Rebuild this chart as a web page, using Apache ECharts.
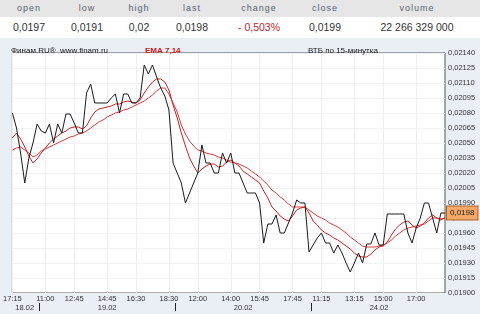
<!DOCTYPE html>
<html>
<head>
<meta charset="utf-8">
<script src="https://cdn.jsdelivr.net/npm/echarts@6/dist/echarts.min.js"></script>
<style>
  html, body { margin:0; padding:0; }
  body { width:480px; height:314px; background:#eaeff6; position:relative; overflow:hidden; font-family:"Liberation Sans", Arial, sans-serif; }
  #hdr1 { position:absolute; left:0; top:0; width:480px; height:17px; background:#e6e6e6; }
  #hdr2 { position:absolute; left:0; top:17px; width:480px; height:21px; background:#ffffff; }
  .h { position:absolute; width:90px; text-align:center; font-size:9px; letter-spacing:1px; color:#5a6470; top:3px; }
  .v { position:absolute; width:110px; text-align:center; font-size:10.5px; color:#333; top:4px; }
  .red { color:#c0282d; }
  #chart { position:absolute; left:0; top:0; width:480px; height:314px; }
</style>
</head>
<body>
<div id="chart"></div>
<div id="hdr1"></div>
<div id="hdr2"></div>
<script>
// ---- header table ----
const headNames = ['open','low','high','last','change','close','volume'];
const headValues = ['0,0197','0,0191','0,02','0,0198','- 0,503%','0,0199','22 266 329 000'];
const headCenters = [29, 87, 139, 192, 259, 325, 417];

// ---- days / sessions (15-minute bars) ----
const days = ['18.02','19.02','20.02','24.02'];
const dayStart = ['17:15','10:45','10:45','10:45'];
const dayEnd   = ['18:45','18:45','18:45','18:45'];
// time labels shown on the axis
const tickLabels = ['18.02 17:15','19.02 11:00','19.02 12:45','19.02 14:45','19.02 16:30','19.02 18:30',
  '20.02 12:00','20.02 14:00','20.02 15:45','20.02 17:45','24.02 11:15','24.02 13:15','24.02 15:00','24.02 17:00'];

// ---- series values ----
const closeVals = [
 0.0208,0.02065,0.0204,0.0201,0.02035,0.0205,0.02069,0.02062,0.0206,0.02069,
 0.0205,0.02069,0.0206,0.02079,0.02079,0.0207,0.0206,0.0206,0.0210,0.02109,
 0.0209,0.0209,0.0209,0.0209,0.02095,0.02099,0.0208,0.02099,0.02099,0.0209,
 0.0209,0.02095,0.02128,0.02119,0.02128,0.02116,0.02105,0.02097,0.02083,0.0203,
 0.0202,0.0201,0.0199,0.0200,0.0201,0.0202,0.02048,0.0203,0.0203,0.0202,
 0.0202,0.0204,0.0203,0.0204,0.0202,0.0202,0.0201,0.0200,0.0200,0.0200,
 0.0199,0.0195,0.01969,0.01969,0.01978,0.0196,0.0196,0.0197,0.0198,0.01993,
 0.0199,0.0199,0.01941,0.01948,0.01955,0.0196,0.0195,0.0195,0.0194,0.01948,
 0.0194,0.0193,0.01921,0.0193,0.0194,0.0193,0.01949,0.01949,0.0196,0.01948,
 0.01948,0.01979,0.01979,0.01979,0.01979,0.01979,0.0196,0.0195,0.01965,0.01975,
 0.0199,0.0199,0.01975,0.0196,0.0198,0.0198
];
const ema7Vals = [
 0.02055,0.0206,0.02054,0.02046,0.02037,0.0203,0.02034,0.0204,0.02045,0.0205,
 0.02054,0.02057,0.0206,0.02062,0.02065,0.02066,0.02066,0.02064,0.02067,0.02075,
 0.02081,0.02084,0.02085,0.02086,0.02087,0.02089,0.02089,0.02091,0.02092,0.02091,
 0.0209,0.02093,0.0210,0.02106,0.02111,0.02114,0.02114,0.02111,0.02103,0.02088,
 0.02075,0.0206,0.02047,0.02035,0.02027,0.0202,0.02024,0.02027,0.02029,0.02029,
 0.02026,0.02027,0.02031,0.02033,0.0203,0.02027,0.02022,0.02019,0.02016,0.02013,
 0.0201,0.02002,0.01995,0.01986,0.01982,0.01977,0.01974,0.01972,0.01977,0.01983,
 0.01985,0.01986,0.0198,0.01972,0.01968,0.01963,0.0196,0.01958,0.01955,0.01953,
 0.0195,0.01947,0.01944,0.0194,0.01937,0.01936,0.01936,0.01939,0.01943,0.01946,
 0.01947,0.01951,0.01958,0.01964,0.01968,0.01971,0.01972,0.01968,0.01965,0.01967,
 0.0197,0.01975,0.01978,0.01975,0.01973,0.01975
];
const ema14Vals = [
 0.02043,0.02045,0.02046,0.02043,0.0204,0.02036,0.02038,0.02042,0.02044,0.02046,
 0.02048,0.0205,0.02052,0.02054,0.02056,0.02057,0.02059,0.0206,0.02062,0.02065,
 0.02068,0.02071,0.02073,0.02076,0.02078,0.0208,0.02081,0.02083,0.02084,0.02086,
 0.02088,0.0209,0.02092,0.02095,0.02098,0.02102,0.02105,0.02105,0.02099,0.0209,
 0.02081,0.02068,0.02059,0.02052,0.02047,0.02043,0.02042,0.0204,0.02039,0.02038,
 0.02036,0.02035,0.02033,0.02031,0.0203,0.02029,0.02027,0.02025,0.02022,0.02019,
 0.02016,0.02012,0.02008,0.02003,0.0200,0.01996,0.01993,0.01989,0.01986,0.01986,
 0.01986,0.01986,0.01983,0.0198,0.01977,0.01975,0.01973,0.0197,0.01968,0.01966,
 0.01963,0.0196,0.01956,0.01953,0.0195,0.01947,0.01946,0.01946,0.01946,0.01947,
 0.01948,0.0195,0.01953,0.01957,0.0196,0.01963,0.01965,0.01966,0.01967,0.01968,
 0.01969,0.01972,0.01975,0.01975,0.01974,0.01975
];
const lastPrice = 0.0198;

// ---- build header ----
const h1 = document.getElementById('hdr1'), h2 = document.getElementById('hdr2');
headNames.forEach((n, k) => {
  const d = document.createElement('div'); d.className = 'h'; d.textContent = n;
  d.style.left = (headCenters[k] - 45) + 'px'; h1.appendChild(d);
  const v = document.createElement('div'); v.className = 'v' + (n === 'change' ? ' red' : '');
  v.textContent = headValues[k]; v.style.left = (headCenters[k] - 55) + 'px'; h2.appendChild(v);
});

// ---- build categories ----
function toMin(t){ const p = t.split(':'); return (+p[0])*60 + (+p[1]); }
function fmt(m){ const h = Math.floor(m/60), mm = m%60; return (h<10?'0':'')+h+':'+(mm<10?'0':'')+mm; }
const cats = [], dayFirst = [], dayLast = [];
days.forEach((d, k) => {
  dayFirst.push(cats.length);
  for (let m = toMin(dayStart[k]); m <= toMin(dayEnd[k]); m += 15) cats.push(d + ' ' + fmt(m));
  dayLast.push(cats.length - 1);
});
const tickSet = new Set(tickLabels);
const boundaries = dayLast.slice(0, -1).map(i => i + 0.5);
const dayMids = dayFirst.map((f, k) => Math.round((f + dayLast[k]) / 2));

const fmtY = v => v.toFixed(5).replace('.', ',');

const chart = echarts.init(document.getElementById('chart'), null, {renderer:'canvas'});
chart.setOption({
  animation: false,
  textStyle: { fontFamily: '"Liberation Sans", Arial, sans-serif' },
  title: [
    { text: 'Финам.RU®  www.finam.ru', left: 6, top: 42, textStyle: { fontSize: 8, fontWeight: 'normal', color: '#222' } },
    { text: 'EMA 7,14', left: 140, top: 42, textStyle: { fontSize: 8, fontWeight: 'bold', color: '#d01818' } },
    { text: 'ВТБ по 15-минутка', left: 303, top: 42, textStyle: { fontSize: 8, fontWeight: 'normal', color: '#222' } }
  ],
  grid: { left: 7, right: 35, top: 53, bottom: 21, show: true, backgroundColor: '#ffffff', borderColor: '#555', borderWidth: 1 },
  xAxis: [
    {
      type: 'category', data: cats, boundaryGap: false,
      axisLine: { show: false }, axisTick: { show: false },
      axisLabel: { interval: (i, v) => tickSet.has(v), formatter: v => v.split(' ')[1], fontSize: 7.5, color: '#333', margin: 2, showMinLabel: true },
      splitLine: { show: true, interval: (i, v) => tickSet.has(v), lineStyle: { color: '#eef0f4', width: 1 } }
    },
    {
      type: 'value', min: 0, max: cats.length - 1, position: 'bottom', offset: 10,
      axisLine: { show: false },
      axisTick: { show: true, customValues: boundaries, length: 8, lineStyle: { color: '#222' } },
      axisLabel: { customValues: dayMids, formatter: v => { for (let k = 0; k < days.length; k++) if (v >= dayFirst[k] && v <= dayLast[k]) return days[k]; return ''; }, fontSize: 7.5, color: '#333', margin: 1 },
      splitLine: { show: false }
    }
  ],
  yAxis: {
    type: 'value', position: 'right', min: 0.019, max: 0.0214, interval: 0.00015,
    axisLine: { show: false }, axisTick: { show: false },
    axisLabel: { formatter: fmtY, fontSize: 7.5, color: '#333', margin: 3 },
    splitLine: { show: true, lineStyle: { color: '#f0f2f5', width: 1 } }
  },
  series: [
    { name: 'EMA 14', type: 'line', data: ema14Vals, showSymbol: false, lineStyle: { color: '#d83a3a', width: 1 }, z: 2 },
    { name: 'EMA 7', type: 'line', data: ema7Vals, showSymbol: false, lineStyle: { color: '#cc2020', width: 1 }, z: 3 },
    { name: 'close', type: 'line', data: closeVals, showSymbol: false, lineStyle: { color: '#1a1a1a', width: 1 }, z: 4,
      markPoint: {
        silent: true, animation: false,
        symbol: 'rect', symbolSize: [6, 1], symbolOffset: [-1, 0],
        itemStyle: { color: '#a8642c' },
        data: [{ coord: [cats.length - 1, lastPrice] }],
        label: { show: true, position: 'right', distance: 0, formatter: () => fmtY(lastPrice).slice(0, 6), backgroundColor: '#f5a766', borderColor: '#a8642c', borderWidth: 1, padding: [3, 3, 2, 3], fontSize: 8, color: '#222' }
      }
    }
  ]
});
</script>
</body>
</html>
